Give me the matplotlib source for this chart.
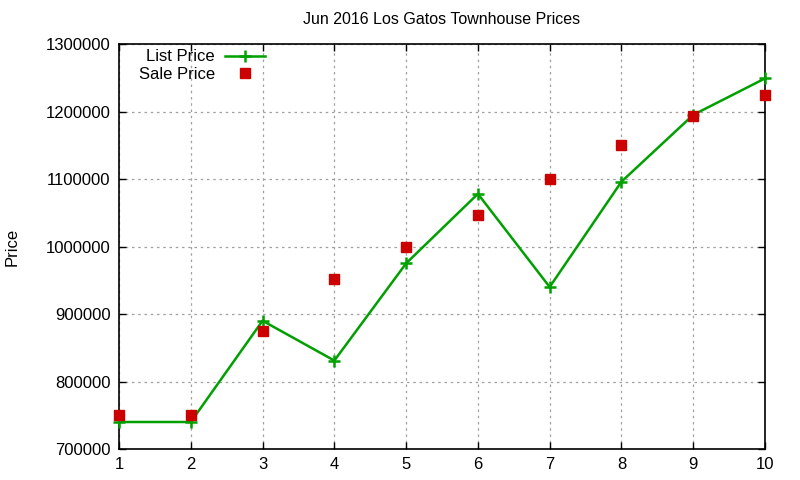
import matplotlib
matplotlib.use("Agg")
import matplotlib.pyplot as plt

months = [1, 2, 3, 4, 5, 6, 7, 8, 9, 10]
list_price = [740000, 740000, 890000, 831000, 975000, 1078000, 940000, 1096000, 1195000, 1249000]
sale_price = [750000, 750000, 875000, 952000, 1000000, 1047000, 1100000, 1150000, 1194000, 1225000]
yticks = [700000, 800000, 900000, 1000000, 1100000, 1200000, 1300000]

plt.rcParams['font.family'] = ['Liberation Sans', 'DejaVu Sans']

fig = plt.figure(figsize=(8, 4.8), dpi=100)
ax = fig.add_axes([119/800, 31/480, (765-119)/800, (449-44)/480])

ax.plot(months, list_price, color='#00a000', lw=1.8, marker='+', ms=9, mew=1.8,
        label='List Price', zorder=3, clip_on=False)
ax.plot(months, sale_price, ls='none', color='#cc0000', marker='s', ms=7,
        label='Sale Price', zorder=4, clip_on=False)

ax.set_xlim(1, 10)
ax.set_ylim(700000, 1300000)
ax.set_xticks(months)
ax.set_yticks(yticks)
ax.set_yticklabels([str(v) for v in yticks])
ax.tick_params(direction='in', length=5, width=1, top=True, right=True, labelsize=12, pad=6)
ax.grid(True, color='#a0a0a0', ls=(0, (2, 3)), lw=0.9)
for s in ax.spines.values():
    s.set_linewidth(1.2)

fig.text(442/800, 1 - 20/480, 'Jun 2016 Los Gatos Townhouse Prices', ha='center', va='center', fontsize=11.5)
fig.text(12/800, 1 - 247/480, 'Price', rotation=90, ha='center', va='center', fontsize=12)

leg = ax.legend(loc='upper right', bbox_to_anchor=(268/800, 1 - 46/480),
                bbox_transform=fig.transFigure, markerfirst=False, frameon=False,
                fontsize=12, handlelength=2.4, handletextpad=0.6, borderaxespad=0.0,
                labelspacing=0.15, borderpad=0.2)

fig.savefig('out.png', dpi=100)
